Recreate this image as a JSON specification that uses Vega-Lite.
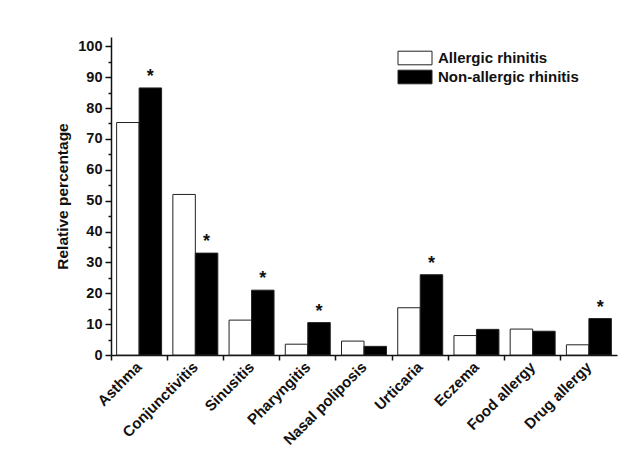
{
  "$schema": "https://vega.github.io/schema/vega-lite/v6.json",
  "width": 506,
  "height": 318,
  "autosize": "none",
  "padding": {"left": 111, "top": 37, "right": 27, "bottom": 110},
  "background": "white",
  "config": {
    "view": {"stroke": null},
    "font": "Liberation Sans",
    "axis": {"domainColor": "#111", "tickColor": "#111", "labelColor": "#111", "titleColor": "#111", "domainWidth": 1.5, "tickWidth": 1.5, "grid": false, "labelFontWeight": "bold", "titleFontWeight": "bold"}
  },
  "data": {
    "values": [
      {"disease": "Asthma", "group": "Allergic rhinitis", "value": 75.3, "star": ""},
      {"disease": "Asthma", "group": "Non-allergic rhinitis", "value": 86.5, "star": "*"},
      {"disease": "Conjunctivitis", "group": "Allergic rhinitis", "value": 52.0, "star": ""},
      {"disease": "Conjunctivitis", "group": "Non-allergic rhinitis", "value": 33.0, "star": "*"},
      {"disease": "Sinusitis", "group": "Allergic rhinitis", "value": 11.3, "star": ""},
      {"disease": "Sinusitis", "group": "Non-allergic rhinitis", "value": 21.0, "star": "*"},
      {"disease": "Pharyngitis", "group": "Allergic rhinitis", "value": 3.5, "star": ""},
      {"disease": "Pharyngitis", "group": "Non-allergic rhinitis", "value": 10.5, "star": "*"},
      {"disease": "Nasal poliposis", "group": "Allergic rhinitis", "value": 4.5, "star": ""},
      {"disease": "Nasal poliposis", "group": "Non-allergic rhinitis", "value": 2.8, "star": ""},
      {"disease": "Urticaria", "group": "Allergic rhinitis", "value": 15.3, "star": ""},
      {"disease": "Urticaria", "group": "Non-allergic rhinitis", "value": 26.0, "star": "*"},
      {"disease": "Eczema", "group": "Allergic rhinitis", "value": 6.3, "star": ""},
      {"disease": "Eczema", "group": "Non-allergic rhinitis", "value": 8.3, "star": ""},
      {"disease": "Food allergy", "group": "Allergic rhinitis", "value": 8.4, "star": ""},
      {"disease": "Food allergy", "group": "Non-allergic rhinitis", "value": 7.7, "star": ""},
      {"disease": "Drug allergy", "group": "Allergic rhinitis", "value": 3.3, "star": ""},
      {"disease": "Drug allergy", "group": "Non-allergic rhinitis", "value": 11.8, "star": "*"}
    ]
  },
  "encoding": {
    "x": {
      "field": "disease", "type": "nominal",
      "sort": ["Asthma", "Conjunctivitis", "Sinusitis", "Pharyngitis", "Nasal poliposis", "Urticaria", "Eczema", "Food allergy", "Drug allergy"],
      "scale": {"paddingInner": 0, "paddingOuter": 0},
      "axis": {"title": null, "labelAngle": -45, "labelAlign": "right", "labelBaseline": "middle", "labelFontSize": 15, "bandPosition": 0, "tickSize": 5, "labelPadding": 4}
    },
    "xOffset": {
      "field": "group", "type": "nominal",
      "scale": {"domain": ["Allergic rhinitis", "Non-allergic rhinitis"], "paddingInner": 0, "paddingOuter": 0.25}
    },
    "y": {
      "field": "value", "type": "quantitative",
      "scale": {"domain": [0, 103], "nice": false},
      "axis": {
        "title": "Relative percentage", "titleFontSize": 15.5, "titlePadding": 7,
        "values": [0, 5, 10, 15, 20, 25, 30, 35, 40, 45, 50, 55, 60, 65, 70, 75, 80, 85, 90, 95, 100],
        "labelExpr": "datum.value % 10 === 0 ? datum.label : ''",
        "tickSize": {"condition": {"test": "datum.value % 10 === 0", "value": 6}, "value": 3},
        "labelFontSize": 14.5, "labelPadding": 3
      }
    }
  },
  "layer": [
    {
      "mark": {"type": "bar", "stroke": "#222", "strokeWidth": 1},
      "encoding": {
        "fill": {
          "field": "group", "type": "nominal",
          "scale": {"domain": ["Allergic rhinitis", "Non-allergic rhinitis"], "range": ["#ffffff", "#000000"]},
          "legend": {
            "title": null, "orient": "none", "legendX": 295, "legendY": 12,
            "symbolType": "M-2,-0.8H2V0.8H-2Z", "symbolSize": 289, "symbolStrokeColor": "#222", "symbolStrokeWidth": 1,
            "labelFontSize": 15, "labelFontWeight": "bold", "labelColor": "#111", "rowPadding": 1, "labelOffset": 14
          }
        }
      }
    },
    {
      "transform": [{"filter": "datum.star === '*'"}],
      "mark": {"type": "text", "dy": -11, "fontSize": 18, "fontWeight": "bold", "color": "#111", "baseline": "middle"},
      "encoding": {"text": {"field": "star"}}
    }
  ]
}
